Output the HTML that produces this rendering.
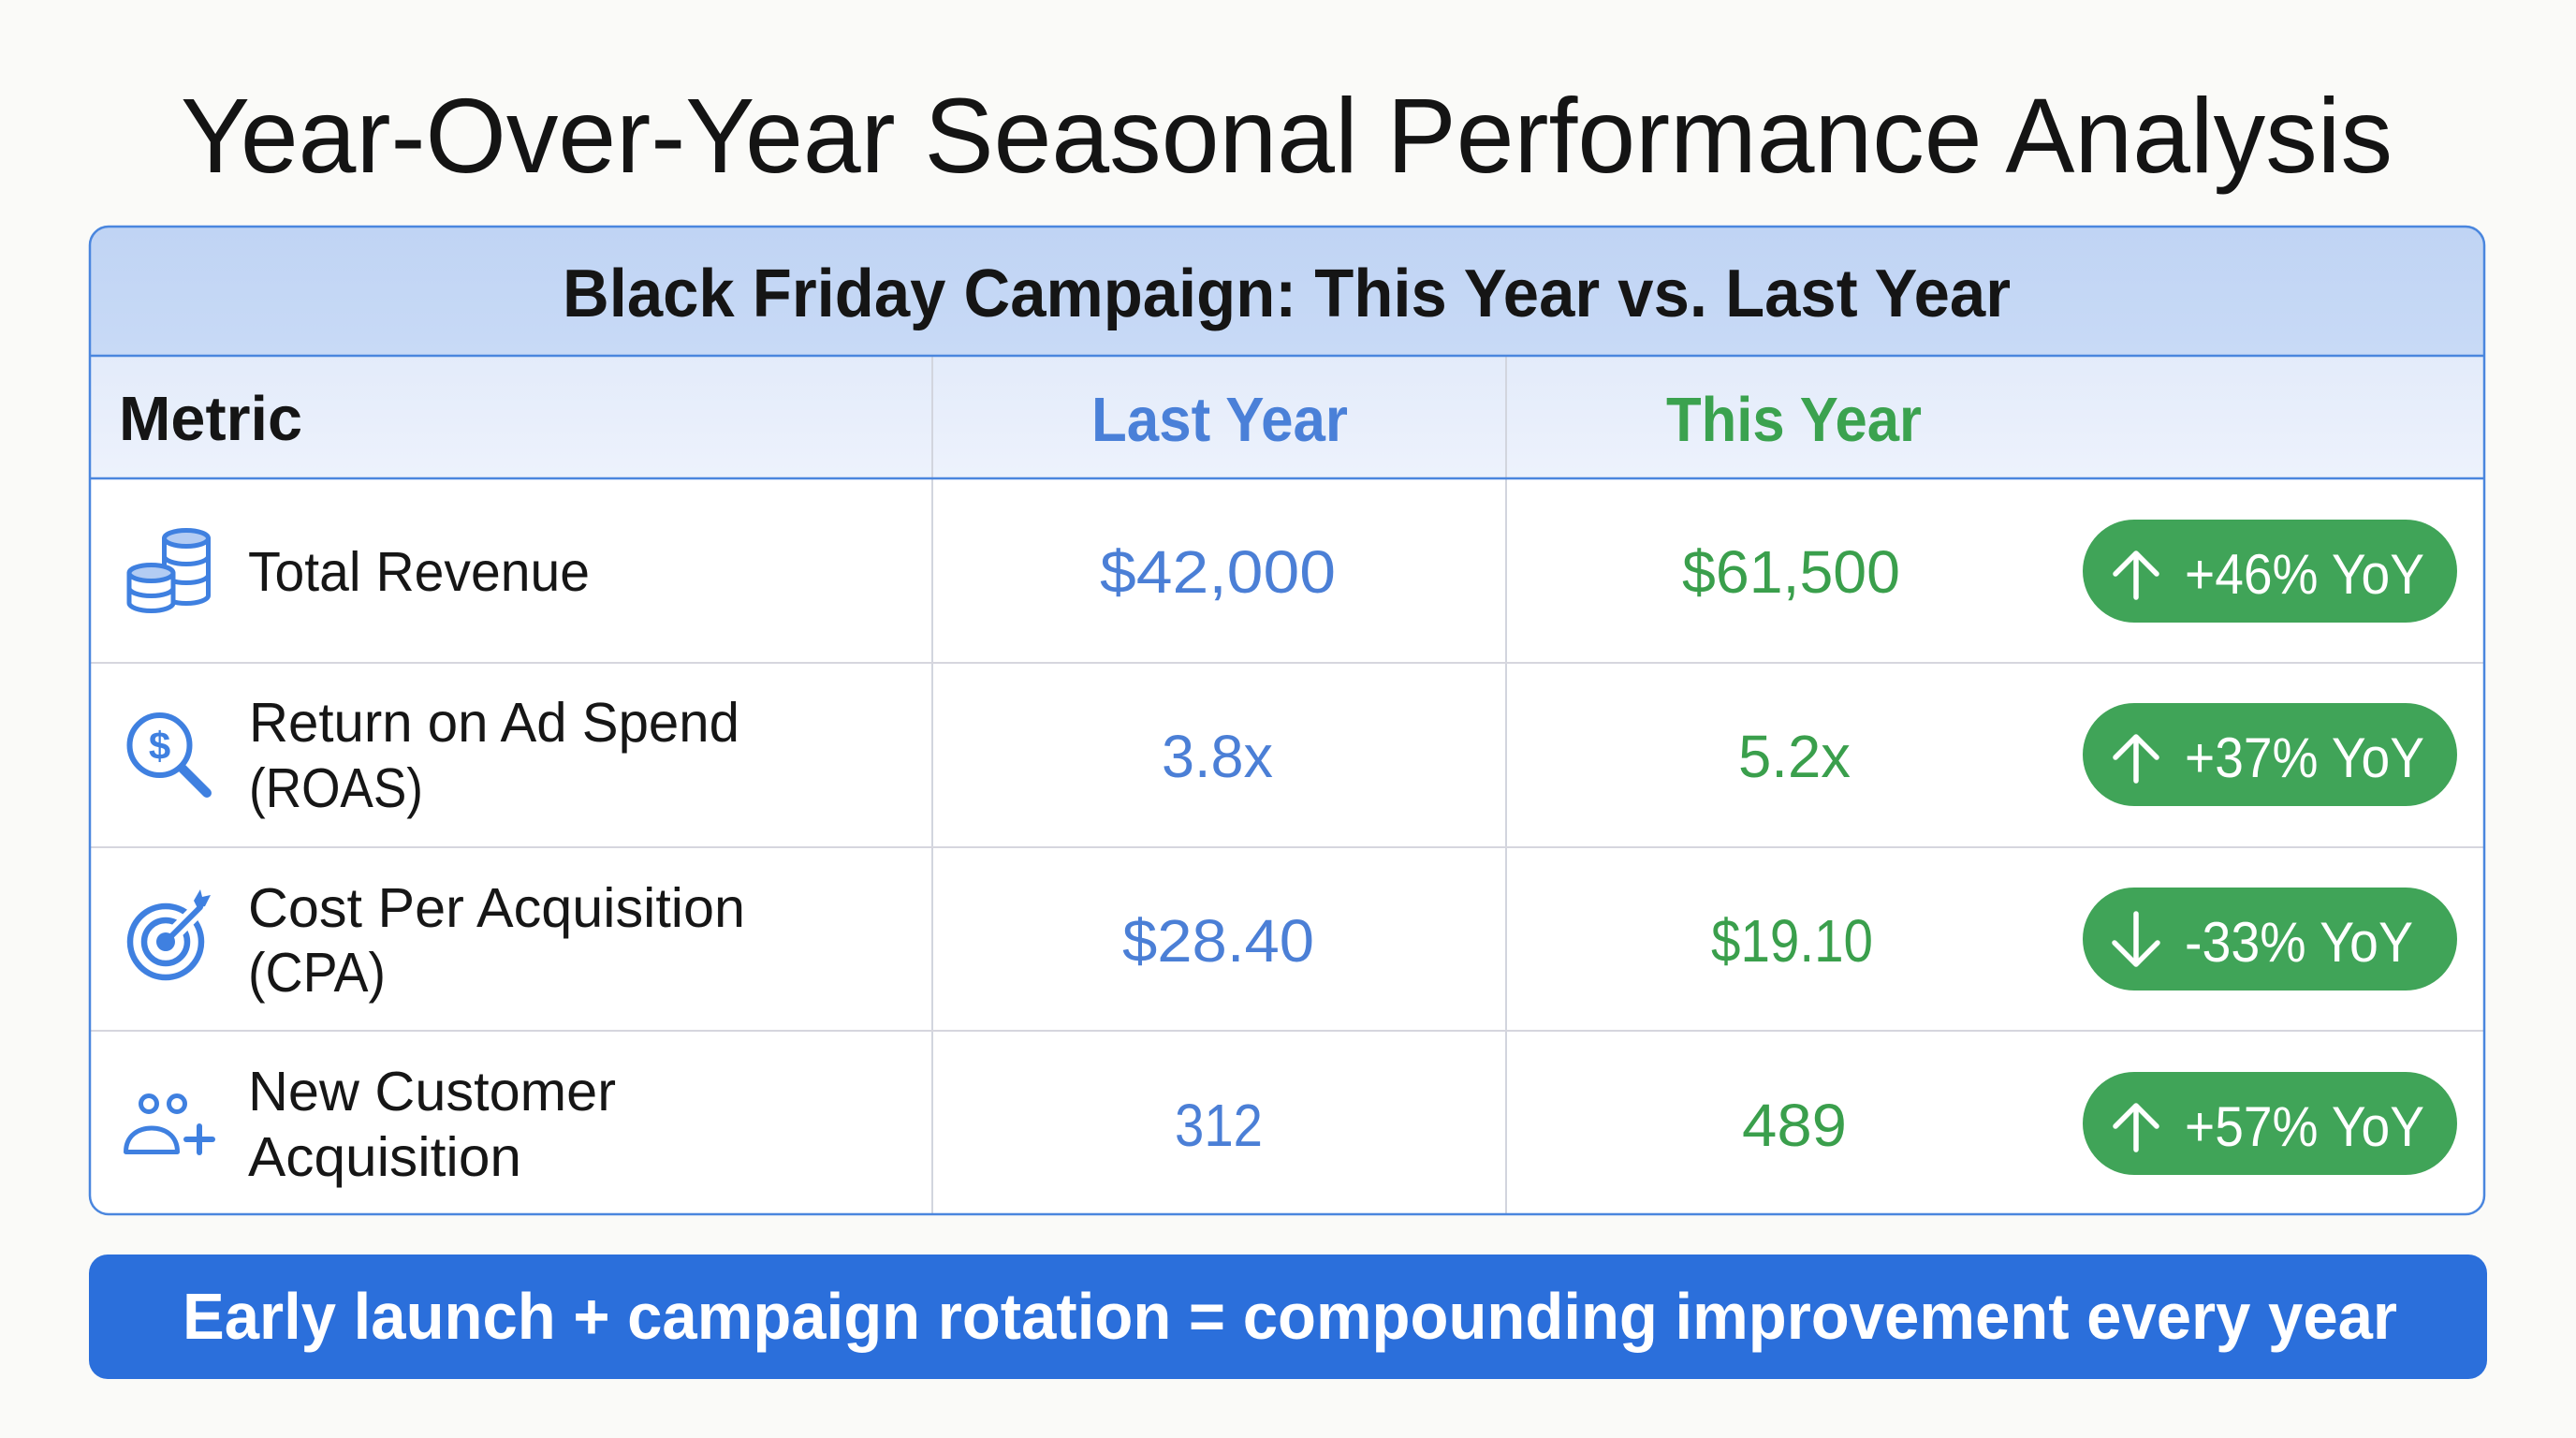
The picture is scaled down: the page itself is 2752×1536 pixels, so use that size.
<!DOCTYPE html>
<html>
<head>
<meta charset="utf-8">
<style>
  html,body{margin:0;padding:0;background:#fafaf8;}
  svg{display:block;}
  text{font-family:"Liberation Sans", Arial, sans-serif;}
</style>
</head>
<body>
<svg width="2752" height="1536" viewBox="0 0 2752 1536" xmlns="http://www.w3.org/2000/svg">
  <defs>
    <clipPath id="tbl"><rect x="96" y="242" width="2558" height="1055" rx="20"/></clipPath>
    <linearGradient id="hb" x1="0" y1="0" x2="0" y2="1">
      <stop offset="0" stop-color="#c0d4f4"/>
      <stop offset="1" stop-color="#c8daf6"/>
    </linearGradient>
    <linearGradient id="hr" x1="0" y1="0" x2="0" y2="1">
      <stop offset="0" stop-color="#e3ebfa"/>
      <stop offset="1" stop-color="#edf2fc"/>
    </linearGradient>
  </defs>

  <rect width="2752" height="1536" fill="#fafaf8"/>

  <!-- Title -->
  <text x="193" y="184" font-size="113" fill="#141414" textLength="2363" lengthAdjust="spacingAndGlyphs">Year-Over-Year Seasonal Performance Analysis</text>

  <!-- Table -->
  <rect x="96" y="242" width="2558" height="1055" rx="20" fill="#ffffff"/>
  <g clip-path="url(#tbl)">
    <rect x="96" y="242" width="2558" height="138" fill="url(#hb)"/>
    <rect x="96" y="380" width="2558" height="131" fill="url(#hr)"/>
  </g>

  <!-- column dividers -->
  <line x1="996" y1="381" x2="996" y2="1296" stroke="#d2d5de" stroke-width="2"/>
  <line x1="1609" y1="381" x2="1609" y2="1296" stroke="#d2d5de" stroke-width="2"/>
  <!-- row separators -->
  <line x1="97" y1="708" x2="2653" y2="708" stroke="#d6d6de" stroke-width="2"/>
  <line x1="97" y1="905" x2="2653" y2="905" stroke="#d6d6de" stroke-width="2"/>
  <line x1="97" y1="1101" x2="2653" y2="1101" stroke="#d6d6de" stroke-width="2"/>
  <!-- header lines -->
  <line x1="96" y1="380" x2="2654" y2="380" stroke="#4a86de" stroke-width="2.5"/>
  <line x1="96" y1="511" x2="2654" y2="511" stroke="#4a86de" stroke-width="2.5"/>
  <rect x="96" y="242" width="2558" height="1055" rx="20" fill="none" stroke="#4a86de" stroke-width="2.5"/>

  <!-- Header texts -->
  <text x="601" y="338" font-size="72" font-weight="bold" fill="#151515" textLength="1547" lengthAdjust="spacingAndGlyphs">Black Friday Campaign: This Year vs. Last Year</text>
  <text x="127" y="470" font-size="67" font-weight="bold" fill="#151515" textLength="196" lengthAdjust="spacingAndGlyphs">Metric</text>
  <text x="1166" y="471" font-size="67" font-weight="bold" fill="#4a80d8" textLength="274" lengthAdjust="spacingAndGlyphs">Last Year</text>
  <text x="1780" y="471" font-size="67" font-weight="bold" fill="#3ba24f" textLength="273" lengthAdjust="spacingAndGlyphs">This Year</text>

  <!-- Row labels -->
  <g font-size="59" fill="#161616">
    <text x="265" y="631" textLength="365" lengthAdjust="spacingAndGlyphs">Total Revenue</text>
    <text x="266" y="792" textLength="524" lengthAdjust="spacingAndGlyphs">Return on Ad Spend</text>
    <text x="266" y="862" textLength="186" lengthAdjust="spacingAndGlyphs">(ROAS)</text>
    <text x="265" y="990" textLength="531" lengthAdjust="spacingAndGlyphs">Cost Per Acquisition</text>
    <text x="265" y="1059" textLength="147" lengthAdjust="spacingAndGlyphs">(CPA)</text>
    <text x="265" y="1186" textLength="393" lengthAdjust="spacingAndGlyphs">New Customer</text>
    <text x="265" y="1256" textLength="292" lengthAdjust="spacingAndGlyphs">Acquisition</text>
  </g>

  <!-- Values -->
  <g font-size="64">
    <text x="1175" y="633" fill="#4b7fd6" textLength="252" lengthAdjust="spacingAndGlyphs">$42,000</text>
    <text x="1797" y="633" fill="#3a9f4c" textLength="233" lengthAdjust="spacingAndGlyphs">$61,500</text>
    <text x="1241" y="830" fill="#4b7fd6" textLength="119" lengthAdjust="spacingAndGlyphs">3.8x</text>
    <text x="1857" y="830" fill="#3a9f4c" textLength="120" lengthAdjust="spacingAndGlyphs">5.2x</text>
    <text x="1199" y="1027" fill="#4b7fd6" textLength="205" lengthAdjust="spacingAndGlyphs">$28.40</text>
    <text x="1828" y="1027" fill="#3a9f4c" textLength="173" lengthAdjust="spacingAndGlyphs">$19.10</text>
    <text x="1255" y="1224" fill="#4b7fd6" textLength="94" lengthAdjust="spacingAndGlyphs">312</text>
    <text x="1861" y="1224" fill="#3a9f4c" textLength="112" lengthAdjust="spacingAndGlyphs">489</text>
  </g>

  <!-- Badges -->
  <g>
    <rect x="2225" y="555" width="400" height="110" rx="55" fill="#40a458"/>
    <rect x="2225" y="751" width="400" height="110" rx="55" fill="#40a458"/>
    <rect x="2225" y="948" width="400" height="110" rx="55" fill="#40a458"/>
    <rect x="2225" y="1145" width="400" height="110" rx="55" fill="#40a458"/>
  </g>
  <g stroke="#ffffff" stroke-width="5.5" stroke-linecap="round" stroke-linejoin="round" fill="none">
    <!-- row1 up -->
    <line x1="2282" y1="592" x2="2282" y2="638"/>
    <polyline points="2260,613 2282,591 2304,613"/>
    <!-- row2 up -->
    <line x1="2282" y1="788" x2="2282" y2="834"/>
    <polyline points="2260,809 2282,787 2304,809"/>
    <!-- row3 down -->
    <line x1="2282" y1="976" x2="2282" y2="1029"/>
    <polyline points="2259,1007 2282,1030 2305,1007"/>
    <!-- row4 up -->
    <line x1="2282" y1="1182" x2="2282" y2="1228"/>
    <polyline points="2260,1203 2282,1181 2304,1203"/>
  </g>
  <g font-size="60" fill="#ffffff">
    <text x="2334" y="634" textLength="256" lengthAdjust="spacingAndGlyphs">+46% YoY</text>
    <text x="2334" y="830" textLength="256" lengthAdjust="spacingAndGlyphs">+37% YoY</text>
    <text x="2334" y="1027" textLength="244" lengthAdjust="spacingAndGlyphs">-33% YoY</text>
    <text x="2334" y="1224" textLength="256" lengthAdjust="spacingAndGlyphs">+57% YoY</text>
  </g>

  <!-- Icons -->
  <g stroke="#3f80e0" stroke-width="5" fill="none" stroke-linecap="round" stroke-linejoin="round">
    <!-- coins: right stack -->
    <path d="M175.5 575 L175.5 636 A23.5 8.5 0 0 0 222.5 636 L222.5 575" fill="#ffffff"/>
    <ellipse cx="199" cy="575" rx="23.5" ry="8.5" fill="#b3ccf3"/>
    <path d="M175.5 594 A23.5 8.5 0 0 0 222.5 594"/>
    <path d="M175.5 614 A23.5 8.5 0 0 0 222.5 614"/>
    <!-- coins: front stack -->
    <path d="M138 612 L138 644 A23.5 8.5 0 0 0 185 644 L185 612 Z" fill="#ffffff"/>
    <ellipse cx="161.5" cy="612" rx="23.5" ry="8.5" fill="#b3ccf3"/>
    <path d="M138 628 A23.5 8.5 0 0 0 185 628"/>

    <!-- magnifier -->
    <circle cx="170.5" cy="796" r="32" stroke-width="6"/>
    <line x1="195" y1="821" x2="221" y2="847" stroke-width="10"/>

    <!-- target -->
    <circle cx="177" cy="1006" r="38" stroke-width="6.5"/>
    <circle cx="177" cy="1006" r="23" stroke-width="6.5"/>
    <line x1="180" y1="1003" x2="216" y2="967" stroke="#ffffff" stroke-width="16"/>
    <circle cx="177" cy="1006" r="10" fill="#3f80e0" stroke="none"/>
    <line x1="177" y1="1006" x2="214" y2="969" stroke-width="6"/>

    <!-- people -->
    <circle cx="159" cy="1179" r="8.5"/>
    <circle cx="189" cy="1179" r="8.5"/>
    <path d="M134.5 1230.5 C134.5 1212 149 1205 162 1205 C175 1205 189.5 1212 189.5 1230.5 Z"/>
    <line x1="199" y1="1217" x2="227" y2="1217" stroke-width="6"/>
    <line x1="213" y1="1203" x2="213" y2="1231" stroke-width="6"/>
  </g>
  <polygon points="207,962 214,950 216,958 225,956 219,968 211,970" fill="#3f80e0"/>
  <text x="170.5" y="811" font-size="42" font-weight="bold" fill="#3f80e0" text-anchor="middle">$</text>

  <!-- Banner -->
  <rect x="95" y="1340" width="2562" height="133" rx="20" fill="#2b6fdb"/>
  <text x="195" y="1430" font-size="70" font-weight="bold" fill="#ffffff" textLength="2366" lengthAdjust="spacingAndGlyphs">Early launch + campaign rotation = compounding improvement every year</text>
</svg>
</body>
</html>
